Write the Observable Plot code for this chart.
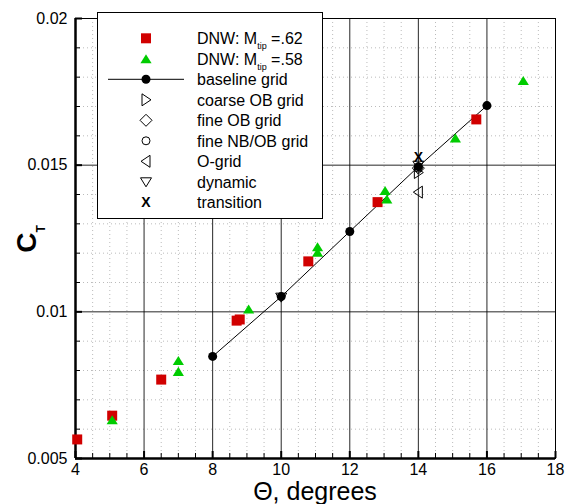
<!DOCTYPE html>
<html><head><meta charset="utf-8">
<script src="https://cdn.jsdelivr.net/npm/d3@7"></script>
<script src="https://cdn.jsdelivr.net/npm/@observablehq/plot@0.6"></script>
<style>body{margin:0;background:#fff} #chart svg{display:block}</style>
</head><body><div id="chart"></div>
<script>
// ---- data ----
const xTicks = [4, 6, 8, 10, 12, 14, 16, 18];
const xTickLabels = ["4", "6", "8", "10", "12", "14", "16", "18"];
const yTicks = [0.005, 0.01, 0.015, 0.02];
const yTickLabels = ["0.005", "0.01", "0.015", "0.02"];
const xLabel = "Θ, degrees";

const dnw62Theta = [4.05, 5.07, 6.5, 8.7, 8.79, 10.79, 12.81, 15.69];
const dnw62Ct = [0.00565, 0.00646, 0.00769, 0.0097, 0.00974, 0.01172, 0.01374, 0.01656];

const dnw58Theta = [5.07, 7.0, 7.0, 9.05, 11.06, 11.06, 13.03, 13.08, 15.08, 17.06];
const dnw58Ct = [0.00632, 0.00834, 0.00797, 0.0101, 0.01222, 0.01203, 0.01414, 0.01385, 0.01593, 0.01789];

const baseTheta = [8, 10, 12, 14, 16];
const baseCt = [0.00848, 0.01052, 0.01274, 0.01495, 0.01703];

const coarseTheta = [14];   const coarseCt = [0.01475];
const fineOBTheta = [14];   const fineOBCt = [0.0149];
const fineNBTheta = [14];   const fineNBCt = [0.0149];
const oGridTheta = [14];    const oGridCt = [0.01408];
const dynTheta = [10, 14];  const dynCt = [0.0105, 0.0150];
const transTheta = [14];    const transCt = [0.01525];

const legendLabels = ["DNW: M|tip|=.62", "DNW: M|tip|=.58", "baseline grid", "coarse OB grid",
  "fine OB grid", "fine NB/OB grid", "O-grid", "dynamic", "transition"];

// ---- helpers ----
const pts = (xs, ys) => xs.map((x, i) => ({x, y: ys[i]}));
const RED = "#d10000", GREEN = "#00cc00";
const FONT = "'Liberation Sans', Arial, Helvetica, sans-serif";

const triRight = {draw(c, s) {const r = Math.sqrt(s / Math.PI); c.moveTo(r, 0); c.lineTo(-0.8 * r, -1.2 * r); c.lineTo(-0.8 * r, 1.2 * r); c.closePath();}};
const triLeft = {draw(c, s) {const r = Math.sqrt(s / Math.PI); c.moveTo(-r, 0); c.lineTo(0.8 * r, -1.2 * r); c.lineTo(0.8 * r, 1.2 * r); c.closePath();}};
const triDown = {draw(c, s) {const r = Math.sqrt(s / Math.PI); c.moveTo(0, r); c.lineTo(-1.1 * r, -0.8 * r); c.lineTo(1.1 * r, -0.8 * r); c.closePath();}};
const diamond = {draw(c, s) {const r = Math.sqrt(s / Math.PI) * 1.2; c.moveTo(0, -r); c.lineTo(r, 0); c.lineTo(0, r); c.lineTo(-r, 0); c.closePath();}};
const triUp = {draw(c, s) {const r = Math.sqrt(s / Math.PI); c.moveTo(0, -1.05 * r); c.lineTo(1.3 * r, 1.05 * r); c.lineTo(-1.3 * r, 1.05 * r); c.closePath();}};
const square = {draw(c, s) {const r = Math.sqrt(s / Math.PI); c.rect(-r, -r, 2 * r, 2 * r);}};

const minorX = d3.range(4, 18.001, 0.5).filter(v => Math.abs(v / 2 - Math.round(v / 2)) > 1e-6);
const minorY = d3.range(5, 20.001, 1).map(v => v / 1000).filter(v => !yTicks.some(t => Math.abs(t - v) < 1e-9));

const chart = Plot.plot({
  width: 567, height: 504,
  marginLeft: 75, marginRight: 12, marginTop: 18, marginBottom: 46,
  style: {fontFamily: FONT, background: "#fff", color: "#000"},
  x: {domain: [4, 18], axis: null},
  y: {domain: [0.005, 0.02], axis: null},
  marks: [
    Plot.gridX(minorX, {stroke: "#bbb", strokeOpacity: 1, strokeDasharray: "1,3"}),
    Plot.gridY(minorY, {stroke: "#bbb", strokeOpacity: 1, strokeDasharray: "1,3"}),
    Plot.gridX([6, 8, 10, 12, 14, 16], {stroke: "#000", strokeOpacity: 0.85, strokeWidth: 1}),
    Plot.gridY([0.01, 0.015], {stroke: "#000", strokeOpacity: 0.85, strokeWidth: 1}),
    Plot.frame({stroke: "#000", strokeWidth: 1}),
    Plot.ruleX([4], {stroke: "#000", strokeWidth: 2.5}),
    Plot.ruleY([0.005], {stroke: "#000", strokeWidth: 2.5}),
    // ticks (inward)
    Plot.axisX({ticks: xTicks, anchor: "bottom", tickSize: -7, strokeWidth: 2, tickPadding: 12, fontSize: 16,
      tickFormat: d => xTickLabels[xTicks.indexOf(d)], label: null}),
    Plot.axisX({ticks: minorX, anchor: "bottom", tickSize: -5, strokeWidth: 1, text: null, label: null}),
    Plot.axisY({ticks: yTicks, anchor: "left", tickSize: -7, strokeWidth: 2, tickPadding: 15, fontSize: 16,
      tickFormat: d => yTickLabels[yTicks.findIndex(t => Math.abs(t - d) < 1e-9)], label: null}),
    Plot.axisY({ticks: minorY, anchor: "left", tickSize: -5, strokeWidth: 1, text: null, label: null}),
    // data
    Plot.line(pts(baseTheta, baseCt), {x: "x", y: "y", stroke: "#000", strokeWidth: 1}),
    Plot.dot(pts(coarseTheta, coarseCt), {x: "x", y: "y", symbol: triRight, r: 5, stroke: "#000", fill: "none", strokeWidth: 1}),
    Plot.dot(pts(fineOBTheta, fineOBCt), {x: "x", y: "y", symbol: diamond, r: 5, stroke: "#000", fill: "none", strokeWidth: 1}),
    Plot.dot(pts(fineNBTheta, fineNBCt), {x: "x", y: "y", r: 4, stroke: "#000", fill: "none", strokeWidth: 1}),
    Plot.dot(pts(oGridTheta, oGridCt), {x: "x", y: "y", symbol: triLeft, r: 5, stroke: "#000", fill: "none", strokeWidth: 1}),
    Plot.dot(pts(dynTheta, dynCt), {x: "x", y: "y", symbol: triDown, r: 5, stroke: "#000", fill: "none", strokeWidth: 1}),
    Plot.dot(pts(baseTheta, baseCt), {x: "x", y: "y", r: 4.5, fill: "#000", stroke: "none"}),
    Plot.text(pts(transTheta, transCt), {x: "x", y: "y", text: () => "X", fontWeight: "bold", fontSize: 14, fill: "#000"}),
    Plot.dot(pts(dnw62Theta, dnw62Ct), {x: "x", y: "y", symbol: square, r: 5, fill: RED, stroke: "none"}),
    Plot.dot(pts(dnw58Theta, dnw58Ct), {x: "x", y: "y", symbol: triUp, r: 4.3, fill: GREEN, stroke: "none"})
  ]
});
document.getElementById("chart").append(chart);

// ---- legend, axis titles (inside same svg) ----
const svg = d3.select(chart.tagName.toLowerCase() === "svg" ? chart : chart.querySelector("svg"));
svg.append("text").attr("x", 315).attr("y", 500).attr("text-anchor", "middle")
  .attr("font-family", FONT).attr("font-size", 25).attr("fill", "#000").text(xLabel);

const lg = svg.append("g").attr("font-family", FONT).attr("text-anchor", "start");
lg.append("rect").attr("x", 97.5).attr("y", 12.5).attr("width", 225).attr("height", 206)
  .attr("fill", "#fff").attr("stroke", "#000").attr("stroke-width", 1);
const symX = 146, txtX = 197, row0 = 38.3, rowH = 20.5;
const sym = (type, size) => d3.symbol().type(type).size(size)();
const symbols = [
  {p: sym(square, Math.PI * 25), fill: RED},
  {p: sym(triUp, Math.PI * 4.3 * 4.3), fill: GREEN},
  {p: sym(d3.symbolCircle, Math.PI * 4.5 * 4.5), fill: "#000", line: true},
  {p: sym(triRight, Math.PI * 25), stroke: "#000"},
  {p: sym(diamond, Math.PI * 25), stroke: "#000"},
  {p: sym(d3.symbolCircle, Math.PI * 16), stroke: "#000"},
  {p: sym(triLeft, Math.PI * 25), stroke: "#000"},
  {p: sym(triDown, Math.PI * 25), stroke: "#000"},
  {text: "X"}
];
legendLabels.forEach((lab, i) => {
  const y = row0 + i * rowH;
  const s = symbols[i];
  if (s.line) lg.append("line").attr("x1", 108).attr("x2", 184).attr("y1", y).attr("y2", y).attr("stroke", "#000");
  if (s.text) lg.append("text").attr("x", symX).attr("y", y).attr("dy", "0.36em").attr("text-anchor", "middle")
    .attr("font-weight", "bold").attr("font-size", 14).text(s.text);
  else lg.append("path").attr("d", s.p).attr("transform", `translate(${symX},${y})`)
    .attr("fill", s.fill || "none").attr("stroke", s.stroke || "none");
  const t = lg.append("text").attr("x", txtX).attr("y", y).attr("dy", "0.36em").attr("font-size", 16)
    .attr("text-anchor", "start");
  const parts = lab.split("|");
  if (parts.length === 3) {
    t.append("tspan").text(parts[0]);
    t.append("tspan").attr("font-size", 9).attr("dy", 5).text(parts[1]);
    t.append("tspan").attr("dy", -5).text(" " + parts[2]);
  } else t.text(lab);
});
// y label C_T
const yl = svg.append("text").attr("transform", "translate(36,239) rotate(-90)").attr("text-anchor", "middle")
  .attr("font-family", FONT).attr("font-weight", "bold").attr("font-size", 28);
yl.append("tspan").text("C");
yl.append("tspan").attr("font-size", 12).attr("dy", 9).text("T");
</script>
</body></html>
